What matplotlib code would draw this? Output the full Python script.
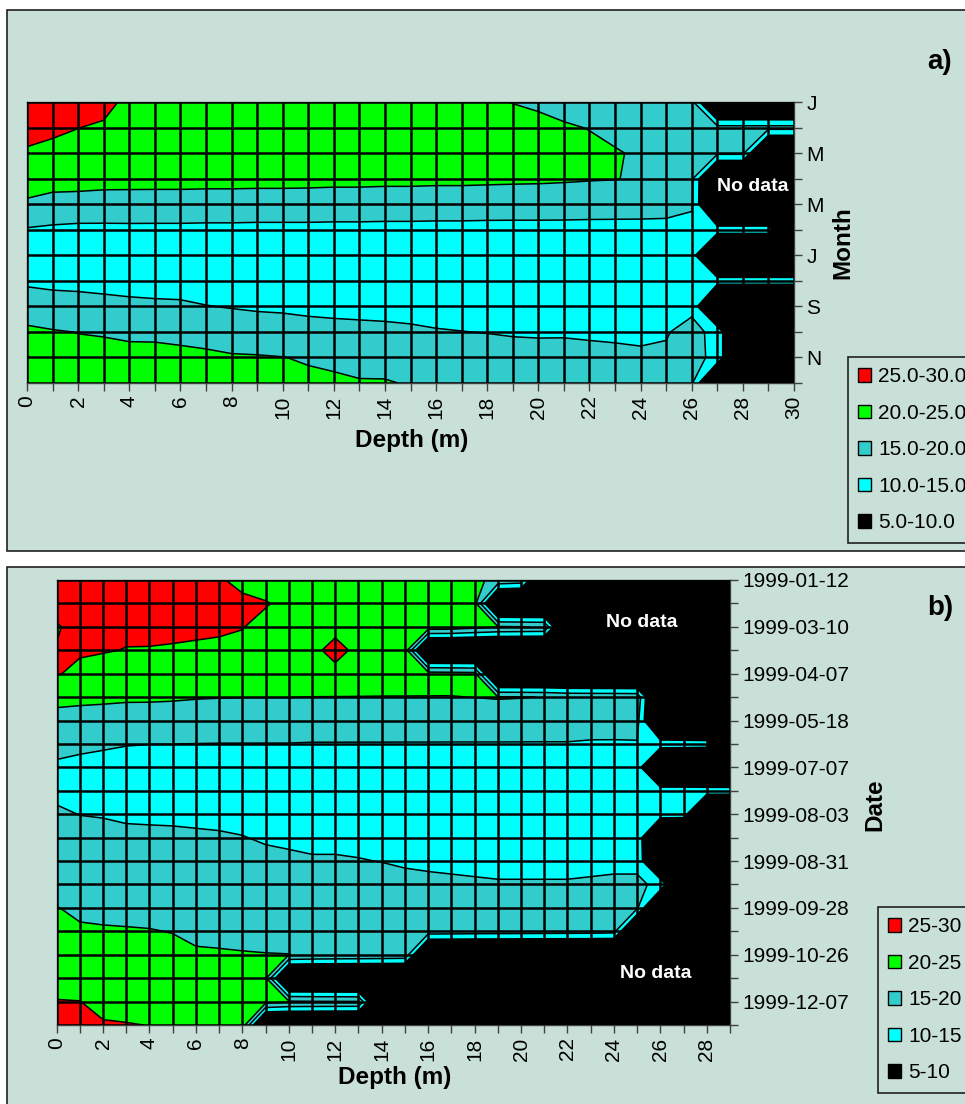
import numpy as np
import matplotlib
matplotlib.use("Agg")
import matplotlib.pyplot as plt
from matplotlib.patches import Patch, Rectangle

plt.rcParams['font.family'] = ['Liberation Sans', 'DejaVu Sans']

N = None  # no data

# ---------------- panel a: monthly temperature by depth ----------------
a_depths = list(range(31))
a_months = ['Jan', 'Feb', 'Mar', 'Apr', 'May', 'Jun', 'Jul', 'Aug', 'Sep', 'Oct', 'Nov', 'Dec']
a_month_ticklabels = ['J', '', 'M', '', 'M', '', 'J', '', 'S', '', 'N', '']
a_temp = [
    [27.5, 27.0, 26.5, 26.0, 24.2, 23.9, 23.7, 23.5, 23.4, 23.3, 23.2, 23.1, 23.0, 22.9, 22.8, 22.7, 22.0, 21.2, 20.4, 19.9, 19.4, 19.0, 18.6, 18.3, 18.0, 17.4, 16.5, N, N, N, N],
    [26.2, 25.6, 25.05, 24.6, 23.8, 23.6, 23.4, 23.2, 23.1, 23.0, 22.9, 22.8, 22.7, 22.6, 22.5, 22.4, 22.3, 22.2, 21.9, 21.5, 21.0, 20.3, 19.9, 19.0, 18.6, 17.8, 17.0, 16.5, 16.5, 16.5, 16.5],
    [24.6, 24.2, 23.8, 23.5, 23.2, 23.0, 22.9, 22.8, 22.7, 22.6, 22.5, 22.4, 22.3, 22.2, 22.1, 22.0, 21.9, 21.8, 21.7, 21.5, 21.3, 21.0, 20.7, 20.3, 19.5, 17.8, 16.5, 16.0, 16.0, N, N],
    [21.0, 20.8, 20.8, 20.7, 20.75, 20.8, 20.8, 20.8, 20.8, 20.8, 20.8, 20.75, 20.7, 20.7, 20.65, 20.65, 20.6, 20.6, 20.55, 20.5, 20.45, 20.35, 20.2, 20.1, 19.6, 17.5, 16.0, N, N, N, N],
    [19.7, 19.3, 19.2, 19.1, 19.0, 18.9, 18.9, 18.8, 18.8, 18.7, 18.7, 18.7, 18.6, 18.6, 18.5, 18.5, 18.4, 18.4, 18.3, 18.2, 18.2, 18.1, 18.0, 17.9, 17.8, 16.5, 15.6, N, N, N, N],
    [14.6, 14.0, 13.6, 13.6, 13.7, 13.7, 13.7, 13.6, 13.6, 13.5, 13.5, 13.5, 13.4, 13.4, 13.3, 13.3, 13.2, 13.2, 13.1, 13.1, 13.1, 13.1, 13.0, 13.0, 13.0, 13.8, 13.5, 12.5, 12.5, 12.5, N],
    [12.5, 12.3, 12.2, 12.1, 12.0, 12.0, 11.9, 11.9, 11.8, 11.8, 11.7, 11.7, 11.6, 11.6, 11.5, 11.5, 11.4, 11.4, 11.3, 11.3, 11.3, 11.3, 11.2, 11.2, 11.2, 11.5, 12.5, N, N, N, N],
    [14.0, 13.8, 13.7, 13.6, 13.5, 13.4, 13.3, 13.2, 13.1, 13.0, 12.9, 12.8, 12.7, 12.6, 12.5, 12.5, 12.4, 12.4, 12.3, 12.3, 12.2, 12.2, 12.1, 12.1, 12.1, 12.2, 12.6, 12.3, 12.3, 12.3, 12.3],
    [18.3, 17.1, 16.8, 16.3, 15.9, 15.7, 15.6, 15.1, 14.8, 14.6, 14.5, 14.3, 14.2, 14.1, 14.0, 13.9, 13.8, 13.7, 13.6, 13.5, 13.4, 13.4, 13.3, 13.3, 13.3, 13.5, 14.3, N, N, N, N],
    [20.6, 20.3, 19.9, 19.7, 19.2, 19.2, 19.0, 18.8, 17.2, 16.6, 16.4, 16.1, 15.9, 15.8, 15.7, 15.5, 15.2, 15.05, 14.9, 14.7, 14.65, 14.7, 14.6, 14.55, 14.5, 14.8, 16.0, 14.0, N, N, N],
    [22.0, 21.8, 21.3, 21.2, 21.3, 21.2, 20.9, 20.6, 20.5, 20.4, 20.1, 19.5, 19.0, 18.6, 18.4, 18.0, 17.6, 17.3, 16.6, 16.3, 16.1, 16.0, 15.8, 15.6, 15.4, 15.4, 16.2, 14.0, N, N, N],
    [23.0, 22.8, 22.5, 22.3, 22.2, 22.0, 21.8, 21.6, 21.4, 21.2, 21.0, 21.1, 20.8, 20.3, 20.3, 19.7, 19.2, 18.8, 18.4, 17.9, 17.7, 17.5, 17.3, 17.0, 16.7, 16.2, 15.8, N, N, N, N],
]

# ---------------- panel b: 1999 sampling dates ----------------
b_depths = list(range(30))
b_dates = ['1999-01-12', '1999-02-09', '1999-03-10', '1999-03-24', '1999-04-07',
           '1999-04-28', '1999-05-18', '1999-06-15', '1999-07-07', '1999-07-20',
           '1999-08-03', '1999-08-17', '1999-08-31', '1999-09-14', '1999-09-28',
           '1999-10-12', '1999-10-26', '1999-11-16', '1999-12-07', '1999-12-21']
b_temp = [
    [26.5, 26.5, 26.3, 26.0, 25.8, 25.7, 25.5, 25.2, 24.5, 23.5, 23.3, 23.2, 23.1, 23.0, 22.9, 22.8, 22.7, 22.5, 20.8, 19.0, 18.0, N, N, N, N, N, N, N, N, N],
    [25.8, 26.0, 26.0, 25.9, 25.8, 25.7, 25.6, 25.5, 25.4, 25.2, 24.3, 23.8, 23.7, 23.5, 23.3, 23.2, 23.1, 22.9, 21.8, N, N, N, N, N, N, N, N, N, N, N],
    [24.8, 25.8, 25.8, 25.6, 25.5, 25.5, 25.4, 25.3, 25.1, 24.2, 24.0, 23.8, 24.3, 23.6, 23.4, 23.2, 23.0, 22.8, 21.5, 20.4, 20.1, 19.8, N, N, N, N, N, N, N, N],
    [25.1, 25.5, 25.2, 24.9, 24.9, 24.8, 24.7, 24.6, 24.3, 24.0, 23.8, 24.4, 25.8, 24.4, 23.5, 22.8, N, N, N, N, N, N, N, N, N, N, N, N, N, N],
    [25.3, 24.0, 23.7, 23.4, 23.2, 23.0, 22.8, 22.7, 22.6, 22.5, 22.4, 23.0, 24.3, 23.0, 22.2, 22.0, 21.8, 21.6, 21.3, N, N, N, N, N, N, N, N, N, N, N],
    [20.9, 20.8, 20.7, 20.5, 20.5, 20.4, 20.2, 20.1, 20.05, 20.05, 20.05, 19.95, 19.9, 19.9, 19.9, 19.9, 19.9, 19.9, 20.05, 20.3, 20.15, 19.9, 19.0, 18.8, 18.7, 18.5, N, N, N, N],
    [18.9, 18.6, 18.4, 18.3, 18.2, 18.1, 18.0, 17.9, 17.8, 17.7, 17.6, 17.5, 17.5, 17.4, 17.4, 17.3, 17.3, 17.2, 17.2, 17.2, 17.1, 17.0, 17.0, 16.9, 16.8, 16.6, N, N, N, N],
    [15.8, 15.4, 15.3, 15.1, 15.02, 15.02, 14.95, 14.9, 14.9, 14.9, 14.9, 14.8, 14.8, 14.8, 14.8, 14.8, 14.8, 14.8, 14.8, 14.8, 14.8, 14.8, 14.8, 14.6, 14.6, 14.7, 13.0, 12.8, 12.5, N],
    [14.6, 14.5, 14.2, 14.0, 13.9, 13.8, 13.7, 13.6, 13.5, 13.5, 13.4, 13.3, 13.3, 13.3, 13.2, 13.2, 13.1, 13.1, 13.0, 13.0, 13.0, 13.0, 13.0, 13.0, 13.0, 13.0, N, N, N, N],
    [14.4, 14.0, 13.8, 13.6, 13.5, 13.4, 13.3, 13.2, 13.2, 13.1, 13.0, 12.9, 12.9, 12.8, 12.8, 12.7, 12.7, 12.6, 12.6, 12.6, 12.6, 12.5, 12.5, 12.5, 12.5, 12.5, 12.8, 12.8, 12.6, 12.5],
    [15.4, 14.95, 14.8, 14.6, 14.5, 14.5, 14.4, 14.3, 14.1, 13.9, 13.8, 13.7, 13.6, 13.5, 13.4, 13.3, 13.2, 13.1, 13.0, 13.0, 13.0, 12.9, 12.9, 12.9, 12.9, 12.9, 12.8, 12.5, N, N],
    [16.5, 16.0, 16.0, 15.6, 15.6, 15.5, 15.4, 15.3, 15.1, 14.7, 14.6, 14.5, 14.5, 14.4, 14.3, 14.1, 14.0, 13.9, 13.8, 13.8, 13.8, 13.7, 13.7, 13.7, 13.8, 13.8, N, N, N, N],
    [17.0, 17.0, 16.8, 16.5, 16.4, 16.3, 16.2, 16.1, 16.0, 15.7, 15.4, 15.2, 15.2, 15.1, 14.95, 14.7, 14.6, 14.5, 14.4, 14.3, 14.3, 14.3, 14.3, 14.4, 14.5, 14.5, N, N, N, N],
    [18.5, 17.8, 17.6, 17.4, 17.3, 17.2, 17.0, 16.9, 16.8, 16.6, 16.4, 16.2, 16.2, 16.0, 15.9, 15.7, 15.5, 15.4, 15.3, 15.2, 15.2, 15.2, 15.2, 15.3, 15.4, 15.4, 14.5, N, N, N],
    [20.1, 19.4, 19.2, 19.0, 18.9, 18.7, 18.2, 18.1, 17.9, 17.7, 17.5, 17.3, 17.2, 17.1, 17.0, 16.8, 16.6, 16.5, 16.3, 16.2, 16.1, 16.1, 16.0, 16.0, 16.0, 15.8, N, N, N, N],
    [21.5, 20.4, 20.3, 20.25, 20.15, 19.9, 19.3, 19.2, 19.0, 18.9, 18.7, 18.5, 18.3, 18.2, 18.0, 17.9, 17.6, 17.5, 17.3, 17.2, 17.1, 17.0, 16.9, 16.8, 16.5, N, N, N, N, N],
    [22.5, 22.0, 21.8, 21.5, 21.3, 20.9, 20.4, 20.3, 20.2, 20.1, 20.05, 19.5, 19.3, 19.1, 18.9, 18.6, N, N, N, N, N, N, N, N, N, N, N, N, N, N],
    [24.0, 23.5, 23.0, 22.6, 22.4, 22.0, 21.7, 21.5, 21.3, 20.8, N, N, N, N, N, N, N, N, N, N, N, N, N, N, N, N, N, N, N, N],
    [25.1, 25.05, 24.0, 23.8, 23.6, 23.2, 22.8, 22.6, 22.4, 21.8, 20.5, 20.3, 20.2, 20.05, N, N, N, N, N, N, N, N, N, N, N, N, N, N, N, N],
    [26.0, 26.0, 25.3, 25.15, 24.95, 24.3, 23.8, 23.5, 23.3, N, N, N, N, N, N, N, N, N, N, N, N, N, N, N, N, N, N, N, N, N],
]

a_band_labels = ['25.0-30.0', '20.0-25.0', '15.0-20.0', '10.0-15.0', '5.0-10.0']
b_band_labels = ['25-30', '20-25', '15-20', '10-15', '5-10']
band_colors = ['#FF0000', '#00FF00', '#33CCCC', '#00FFFF', '#000000']

# ---------------- drawing ----------------
BG = '#C9E0D9'
W, H = 965, 1104
NODATA = -5.0
levels = [-10, 10, 15, 20, 25, 30]
fill_colors = band_colors[::-1]


def to_grid(rows, ncols):
    for r in rows:
        if len(r) != ncols:
            raise ValueError('row length %d != %d' % (len(r), ncols))
    arr = np.array([[np.nan if v is None else v for v in r] for r in rows], dtype=float)
    return np.where(np.isnan(arr), NODATA, arr)


def px_axes(left, top, right, bottom):
    return [left / W, 1 - bottom / H, (right - left) / W, (bottom - top) / H]


def draw_panel(ax, depths, nrows, grid):
    X, Y = np.meshgrid(depths, np.arange(nrows))
    ax.contourf(X, Y, grid, levels=levels, colors=fill_colors, antialiased=True)
    ax.contour(X, Y, grid, levels=[10, 15, 20, 25], colors='black', linewidths=1.1)
    ax.set_xlim(depths[0], depths[-1])
    ax.set_ylim(nrows - 1, 0)
    ax.set_facecolor('black')
    ax.set_axisbelow(False)
    ax.grid(True, color='black', linewidth=1.8)
    ax.yaxis.tick_right()
    ax.yaxis.set_label_position('right')
    ax.set_xticks(depths)
    ax.set_xticklabels([str(d) if d % 2 == 0 else '' for d in depths], rotation=90)
    ax.set_yticks(np.arange(nrows))
    ax.tick_params(axis='both', direction='out', length=6, width=1, color='#404040',
                   labelsize=15, pad=3)
    for s in ax.spines.values():
        s.set_color('#404040')
        s.set_linewidth(1)


def add_legend(handles, labels, left_px, top_px):
    leg = fig.legend(handles, labels, loc='upper left',
                     bbox_to_anchor=(left_px / W, 1 - top_px / H), bbox_transform=fig.transFigure,
                     frameon=True, fancybox=False, edgecolor='#202020', facecolor=BG, framealpha=1,
                     fontsize=15, handlelength=0.6, handleheight=0.6, handletextpad=0.35,
                     labelspacing=0.84, borderpad=0.5, borderaxespad=0)
    leg.get_frame().set_linewidth(1.2)
    return leg


fig = plt.figure(figsize=(W / 100, H / 100), dpi=100, facecolor='white')

# panel frames
fig.add_artist(Rectangle((7 / W, 1 - 551 / H), 1.0, 541 / H, transform=fig.transFigure,
                         facecolor=BG, edgecolor='#202020', linewidth=1.2, zorder=-1))
fig.add_artist(Rectangle((7 / W, -0.02), 1.0, (1104 - 567) / H + 0.02, transform=fig.transFigure,
                         facecolor=BG, edgecolor='#202020', linewidth=1.2, zorder=-1))

# ---- panel a
ax1 = fig.add_axes(px_axes(27, 102, 794, 383))
draw_panel(ax1, a_depths, len(a_months), to_grid(a_temp, len(a_depths)))
ax1.set_yticklabels(a_month_ticklabels)
ax1.set_xlabel('Depth (m)', fontsize=17.5, fontweight='bold')
ax1.xaxis.set_label_coords(0.502, -0.206)
ax1.xaxis.label.set_va('center')
ax1.set_ylabel('Month', fontsize=17.5, fontweight='bold', rotation=90)
ax1.yaxis.set_label_coords(1.064, 0.498)
ax1.yaxis.label.set_va('center')
ax1.text(28.4, 3.3, 'No data', color='white', fontsize=14, fontweight='bold',
         ha='center', va='center')
fig.text(940 / W, 1 - 62 / H, 'a)', fontsize=20, fontweight='bold', ha='center', va='center')

handles_a = [Patch(facecolor=c, edgecolor='black', linewidth=1) for c in band_colors]
add_legend(handles_a, a_band_labels, 848, 357)

# ---- panel b
ax2 = fig.add_axes(px_axes(56.6, 580, 730, 1025))
draw_panel(ax2, b_depths, len(b_dates), to_grid(b_temp, len(b_depths)))
ax2.set_yticklabels([d if i % 2 == 0 else '' for i, d in enumerate(b_dates)])
ax2.set_xlabel('Depth (m)', fontsize=17.5, fontweight='bold')
ax2.xaxis.set_label_coords(0.5025, -0.117)
ax2.xaxis.label.set_va('center')
ax2.set_ylabel('Date', fontsize=17.5, fontweight='bold', rotation=90)
ax2.yaxis.set_label_coords(1.215, 0.494)
ax2.yaxis.label.set_va('center')
ax2.text(25.2, 1.8, 'No data', color='white', fontsize=14, fontweight='bold',
         ha='center', va='center')
ax2.text(25.8, 16.8, 'No data', color='white', fontsize=14, fontweight='bold',
         ha='center', va='center')
fig.text(940 / W, 1 - 608 / H, 'b)', fontsize=20, fontweight='bold', ha='center', va='center')

handles_b = [Patch(facecolor=c, edgecolor='black', linewidth=1) for c in band_colors]
add_legend(handles_b, b_band_labels, 878, 907)

fig.savefig('out.png', dpi=100, facecolor='white')
